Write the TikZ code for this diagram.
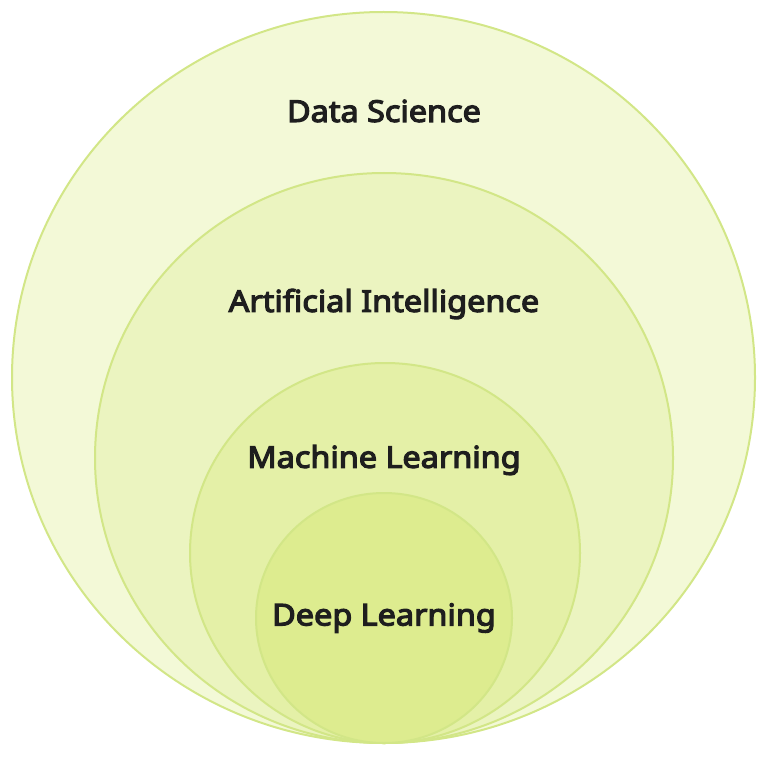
\documentclass[tikz,border=0pt]{standalone}
\usepackage{fontspec}
\setmainfont{Noto Sans}
\newfontfamily\labelfont{Noto Sans}[FakeBold=4,FakeStretch=1.08]
\usepackage{tikz}
\usetikzlibrary{positioning}

\definecolor{ringline}{HTML}{D2E687}
\definecolor{dsfill}{HTML}{F3F9D7}
\definecolor{aifill}{HTML}{EBF4C0}
\definecolor{mlfill}{HTML}{E4F0A7}
\definecolor{dlfill}{HTML}{DDEC8F}
\definecolor{labeltext}{HTML}{1E1E1E}

\begin{document}
\begin{tikzpicture}[x=1pt,y=-1pt,
    ring/.style={draw=ringline,line width=2pt},
    every node/.style={font=\labelfont\fontsize{30}{36}\selectfont,text=labeltext,inner sep=0pt}]

			\useasboundingbox (0,0) rectangle (775,759);

			% Circles
			\draw[ring,fill=dsfill] (383.5,377.5) ellipse [x radius=371.5,y radius=365.5];
			\draw[ring,fill=aifill] (384,458) ellipse [x radius=289,y radius=285];
			\draw[ring,fill=mlfill] (385,553) ellipse [x radius=195,y radius=190];
			\draw[ring,fill=dlfill] (384,618) ellipse [x radius=128,y radius=125];

			% Labels
			\node (DS) at (384,111) {Data Science};
			\node (AI) at (384,304) {Artificial Intelligence};
			\node (ML) at (384,460) {Machine Learning};
			\node (DL) at (384,618) {Deep Learning};

		\end{tikzpicture}
\end{document}
